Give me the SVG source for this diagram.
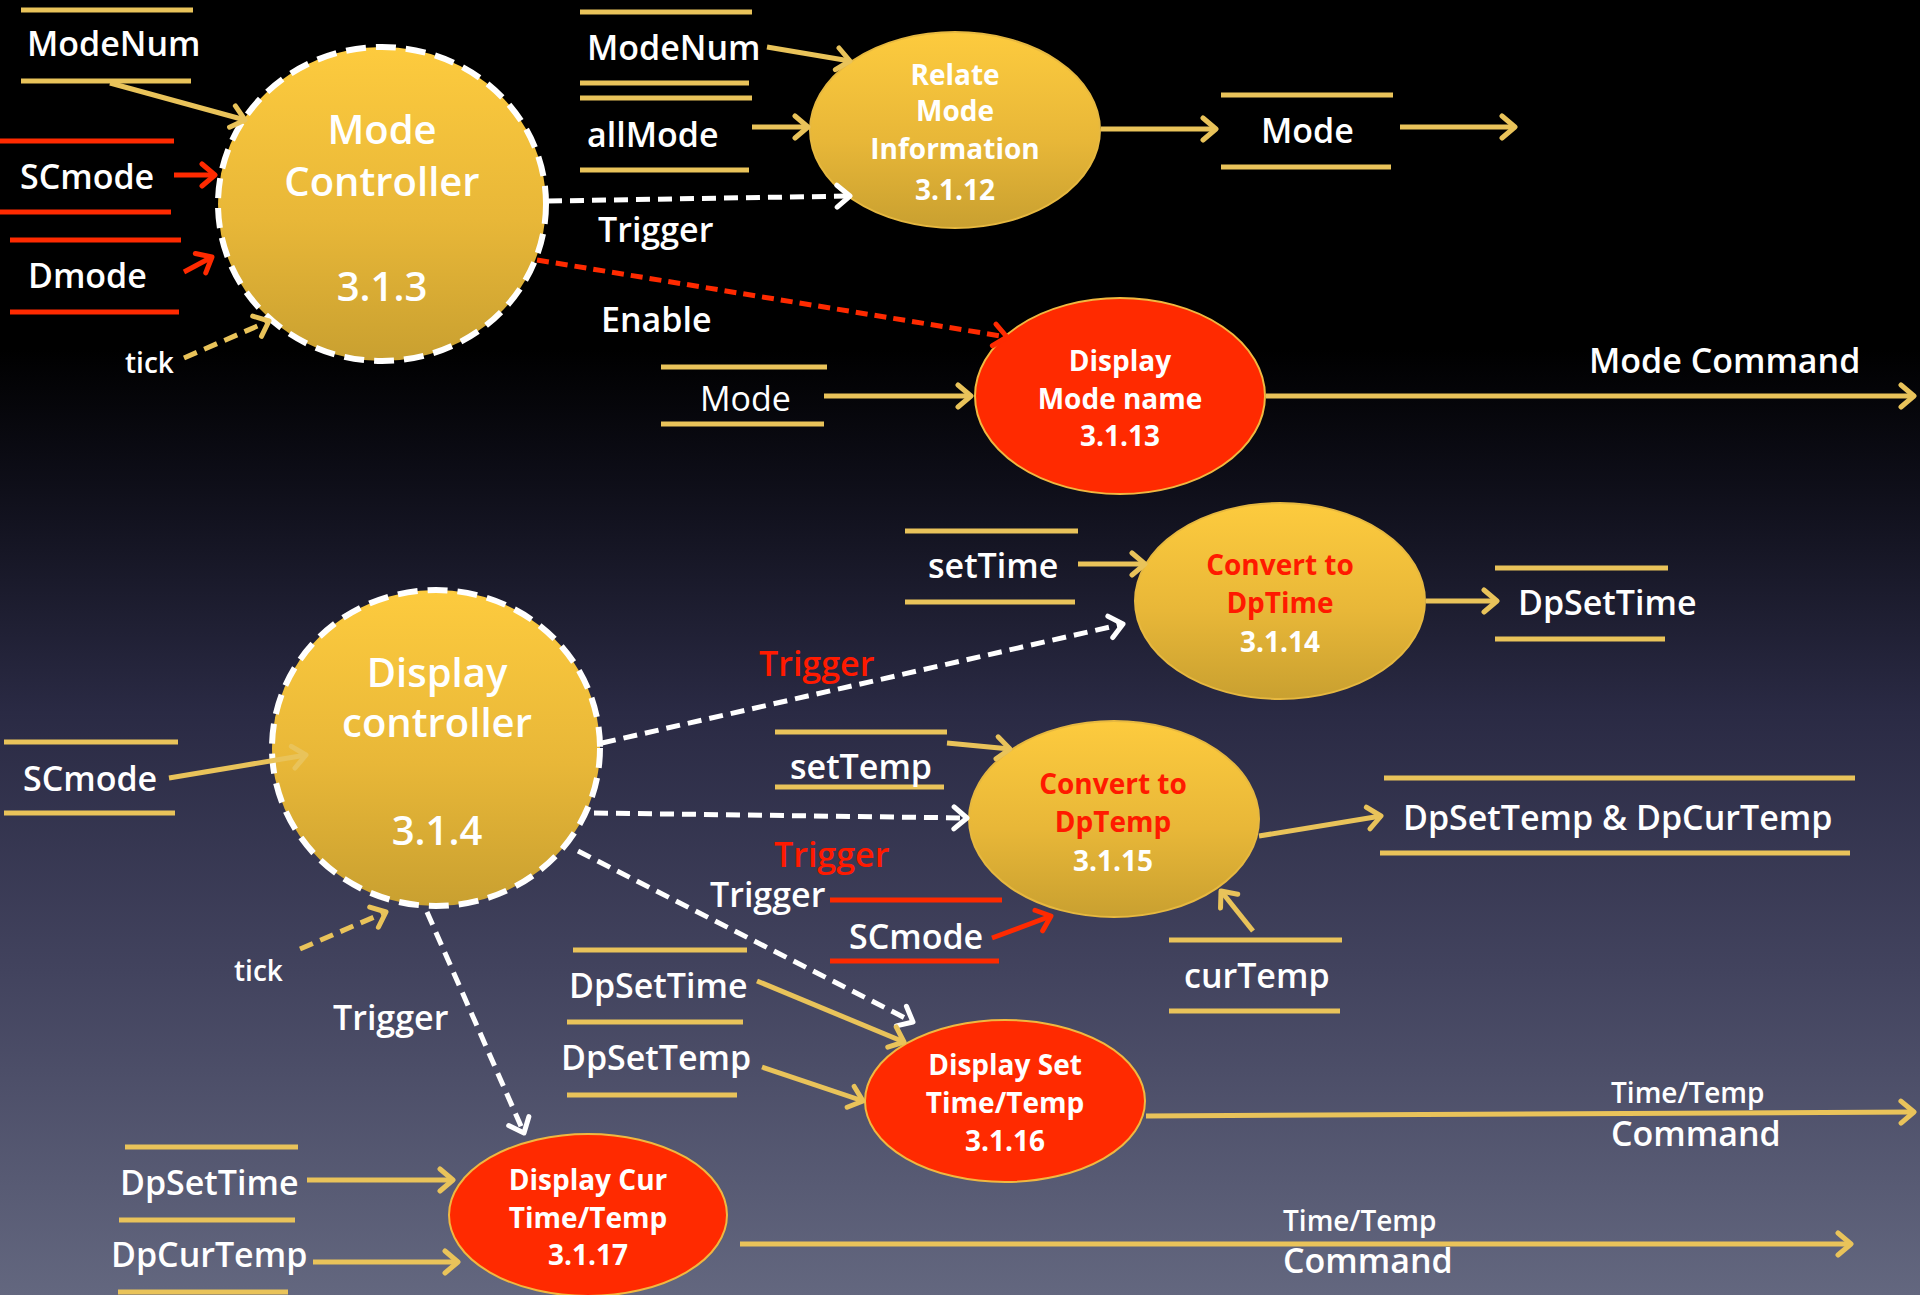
<svg xmlns="http://www.w3.org/2000/svg" width="1920" height="1295" viewBox="0 0 1920 1295">
<defs>
<linearGradient id="bg" x1="0" y1="0" x2="0" y2="1">
<stop offset="0" stop-color="#000000"/>
<stop offset="0.27" stop-color="#000000"/>
<stop offset="0.38" stop-color="#0f0f1a"/>
<stop offset="0.55" stop-color="#2a2a44"/>
<stop offset="0.75" stop-color="#42435e"/>
<stop offset="1" stop-color="#63677f"/>
</linearGradient>
<linearGradient id="gold" x1="0" y1="0" x2="0" y2="1">
<stop offset="0" stop-color="#fdcb3e"/>
<stop offset="0.55" stop-color="#e8b738"/>
<stop offset="1" stop-color="#c9a030"/>
</linearGradient>
<marker id="ay" viewBox="0 0 20 28" refX="17" refY="14" markerWidth="20" markerHeight="28" orient="auto" markerUnits="userSpaceOnUse"><path d="M4,3 L17,14 L4,25" fill="none" stroke="#e9c35a" stroke-width="5" stroke-linecap="round" stroke-linejoin="round"/></marker>
<marker id="ar" viewBox="0 0 20 28" refX="17" refY="14" markerWidth="20" markerHeight="28" orient="auto" markerUnits="userSpaceOnUse"><path d="M4,3 L17,14 L4,25" fill="none" stroke="#ff2a00" stroke-width="5" stroke-linecap="round" stroke-linejoin="round"/></marker>
<marker id="aw" viewBox="0 0 20 28" refX="17" refY="14" markerWidth="20" markerHeight="28" orient="auto" markerUnits="userSpaceOnUse"><path d="M4,3 L17,14 L4,25" fill="none" stroke="#ffffff" stroke-width="5" stroke-linecap="round" stroke-linejoin="round"/></marker>
</defs>
<style>
text{font-family:"Open Sans","Noto Sans","Liberation Sans",sans-serif;fill:#ffffff;font-weight:600}
.lbl{font-size:34px}
.sm{font-size:28px}
.big{font-size:40px;text-anchor:middle}
.nt{font-size:28px;text-anchor:middle;font-weight:700}
.rt{fill:#ff1a00}
.ys{stroke:#e9c35a;stroke-width:5;fill:none}
.rs{stroke:#ff2a00;stroke-width:5;fill:none}
.ya{stroke:#e9c35a;stroke-width:5;fill:none;marker-end:url(#ay)}
.yd{stroke:#e9c35a;stroke-width:5;fill:none;stroke-dasharray:14 8;marker-end:url(#ay)}
.ra{stroke:#ff2a00;stroke-width:5;fill:none;marker-end:url(#ar)}
.rd{stroke:#ff2a00;stroke-width:5;fill:none;stroke-dasharray:12 7;marker-end:url(#ar)}
.wd{stroke:#ffffff;stroke-width:5;fill:none;stroke-dasharray:14 8;marker-end:url(#aw)}
.ctl{fill:url(#gold);stroke:#ffffff;stroke-width:6;stroke-dasharray:20 10}
.gp{fill:url(#gold);stroke:#e6b840;stroke-width:2}
.rp{fill:#ff2a00;stroke:#f0b840;stroke-width:2}
</style>
<rect width="1920" height="1295" fill="url(#bg)"/>

<g id="stores">
<g id="store-modenum-1"><line class="ys" x1="21" y1="10" x2="193" y2="10"/><line class="ys" x1="21" y1="81" x2="191" y2="81"/><text class="lbl" x="27" y="56">ModeNum</text></g>
<g id="store-scmode-1"><line class="rs" x1="0" y1="141" x2="174" y2="141"/><line class="rs" x1="0" y1="212" x2="171" y2="212"/><text class="lbl" x="20" y="189">SCmode</text></g>
<g id="store-dmode"><line class="rs" x1="10" y1="240" x2="181" y2="240"/><line class="rs" x1="10" y1="312" x2="179" y2="312"/><text class="lbl" x="28" y="288">Dmode</text></g>
<g id="store-modenum-2"><line class="ys" x1="580" y1="12" x2="752" y2="12"/><line class="ys" x1="580" y1="83" x2="749" y2="83"/><text class="lbl" x="587" y="60">ModeNum</text></g>
<g id="store-allmode"><line class="ys" x1="580" y1="98" x2="752" y2="98"/><line class="ys" x1="580" y1="170" x2="749" y2="170"/><text class="lbl" x="587" y="147">allMode</text></g>
<g id="store-mode-1"><line class="ys" x1="1221" y1="95" x2="1393" y2="95"/><line class="ys" x1="1221" y1="167" x2="1391" y2="167"/><text class="lbl" x="1261" y="143">Mode</text></g>
<g id="store-mode-2"><line class="ys" x1="661" y1="367" x2="827" y2="367"/><line class="ys" x1="661" y1="424" x2="824" y2="424"/><text class="lbl" x="700" y="411" style="font-weight:400">Mode</text></g>
<g id="store-settime"><line class="ys" x1="905" y1="531" x2="1078" y2="531"/><line class="ys" x1="905" y1="602" x2="1075" y2="602"/><text class="lbl" x="928" y="578">setTime</text></g>
<g id="store-dpsettime-1"><line class="ys" x1="1495" y1="568" x2="1668" y2="568"/><line class="ys" x1="1495" y1="639" x2="1665" y2="639"/><text class="lbl" x="1518" y="615">DpSetTime</text></g>
<g id="store-scmode-2"><line class="ys" x1="4" y1="742" x2="178" y2="742"/><line class="ys" x1="4" y1="813" x2="175" y2="813"/><text class="lbl" x="23" y="791">SCmode</text></g>
<g id="store-settemp"><line class="ys" x1="775" y1="732" x2="947" y2="732"/><line class="ys" x1="775" y1="787" x2="944" y2="787"/><text class="lbl" x="790" y="779">setTemp</text></g>
<g id="store-dpsettemp-dpcurtemp"><line class="ys" x1="1384" y1="778" x2="1855" y2="778"/><line class="ys" x1="1380" y1="853" x2="1850" y2="853"/><text class="lbl" x="1403" y="830">DpSetTemp &amp; DpCurTemp</text></g>
<g id="store-scmode-3"><line class="rs" x1="830" y1="900" x2="1002" y2="900"/><line class="rs" x1="830" y1="961" x2="999" y2="961"/><text class="lbl" x="849" y="949">SCmode</text></g>
<g id="store-curtemp"><line class="ys" x1="1169" y1="940" x2="1342" y2="940"/><line class="ys" x1="1169" y1="1011" x2="1340" y2="1011"/><text class="lbl" x="1184" y="988">curTemp</text></g>
<g id="store-dpsettime-2"><line class="ys" x1="573" y1="950" x2="747" y2="950"/><line class="ys" x1="567" y1="1022" x2="743" y2="1022"/><text class="lbl" x="569" y="998">DpSetTime</text></g>
<g id="store-dpsettemp"><line class="ys" x1="567" y1="1095" x2="737" y2="1095"/><text class="lbl" x="561" y="1070">DpSetTemp</text></g>
<g id="store-dpsettime-3"><line class="ys" x1="125" y1="1147" x2="298" y2="1147"/><line class="ys" x1="119" y1="1220" x2="295" y2="1220"/><text class="lbl" x="120" y="1195">DpSetTime</text></g>
<g id="store-dpcurtemp"><line class="ys" x1="118" y1="1292" x2="288" y2="1292"/><text class="lbl" x="111" y="1267">DpCurTemp</text></g>
</g>

<g id="node-3.1.3">
<ellipse class="ctl" cx="382" cy="204" rx="164" ry="157"/>
<text class="big" x="382" y="144">Mode</text>
<text class="big" x="382" y="196">Controller</text>
<text class="big" x="382" y="301">3.1.3</text>
</g>
<g id="node-3.1.12">
<ellipse class="gp" cx="955" cy="130" rx="145" ry="98"/>
<text class="nt" x="955" y="85">Relate</text>
<text class="nt" x="955" y="121">Mode</text>
<text class="nt" x="955" y="159">Information</text>
<text class="nt" x="955" y="200">3.1.12</text>
</g>
<g id="node-3.1.13">
<ellipse class="rp" cx="1120" cy="396" rx="145" ry="98"/>
<text class="nt" x="1120" y="371">Display</text>
<text class="nt" x="1120" y="409">Mode name</text>
<text class="nt" x="1120" y="446">3.1.13</text>
</g>
<g id="node-3.1.4">
<ellipse class="ctl" cx="436" cy="748" rx="164" ry="158"/>
<text class="big" x="437" y="687">Display</text>
<text class="big" x="437" y="737">controller</text>
<text class="big" x="437" y="845">3.1.4</text>
</g>
<g id="node-3.1.14">
<ellipse class="gp" cx="1280" cy="601" rx="145" ry="98"/>
<text class="nt rt" x="1280" y="575">Convert to</text>
<text class="nt rt" x="1280" y="613">DpTime</text>
<text class="nt" x="1280" y="652">3.1.14</text>
</g>
<g id="node-3.1.15">
<ellipse class="gp" cx="1114" cy="819" rx="145" ry="98"/>
<text class="nt rt" x="1113" y="794">Convert to</text>
<text class="nt rt" x="1113" y="832">DpTemp</text>
<text class="nt" x="1113" y="871">3.1.15</text>
</g>
<g id="node-3.1.16">
<ellipse class="rp" cx="1005" cy="1101" rx="140" ry="81"/>
<text class="nt" x="1005" y="1075">Display Set</text>
<text class="nt" x="1005" y="1113">Time/Temp</text>
<text class="nt" x="1005" y="1151">3.1.16</text>
</g>
<g id="node-3.1.17">
<ellipse class="rp" cx="588" cy="1215" rx="139" ry="81"/>
<text class="nt" x="588" y="1190">Display Cur</text>
<text class="nt" x="588" y="1228">Time/Temp</text>
<text class="nt" x="588" y="1265">3.1.17</text>
</g>

<g id="connectors">
<line class="ya" x1="110" y1="83" x2="245" y2="120"/>
<line class="ra" x1="174" y1="175" x2="215" y2="175"/>
<line class="ra" x1="184" y1="272" x2="212" y2="257"/>
<line class="yd" x1="184" y1="358" x2="269" y2="321"/>
<line class="ya" x1="767" y1="47" x2="850" y2="61"/>
<line class="ya" x1="752" y1="127" x2="808" y2="127"/>
<line class="wd" x1="548" y1="201" x2="850" y2="196"/>
<line class="ya" x1="1101" y1="129" x2="1216" y2="129"/>
<line class="ya" x1="1400" y1="127" x2="1515" y2="127"/>
<line class="rd" x1="537" y1="260" x2="1007" y2="337"/>
<line class="ya" x1="824" y1="396" x2="971" y2="396"/>
<line class="ya" x1="1266" y1="396" x2="1914" y2="396"/>
<line class="ya" x1="169" y1="778" x2="306" y2="755"/>
<line class="yd" x1="300" y1="949" x2="386" y2="912"/>
<line class="wd" x1="427" y1="912" x2="524" y2="1133"/>
<line class="wd" x1="602" y1="743" x2="1123" y2="624"/>
<line class="ya" x1="1078" y1="564" x2="1145" y2="564"/>
<line class="ya" x1="1426" y1="601" x2="1497" y2="601"/>
<line class="ya" x1="947" y1="743" x2="1010" y2="749"/>
<line class="wd" x1="594" y1="813" x2="967" y2="818"/>
<line class="ya" x1="1259" y1="836" x2="1381" y2="816"/>
<line class="ya" x1="1253" y1="931" x2="1221" y2="891"/>
<line class="ra" x1="992" y1="938" x2="1051" y2="916"/>
<line class="wd" x1="578" y1="851" x2="913" y2="1022"/>
<line class="ya" x1="757" y1="981" x2="904" y2="1042"/>
<line class="ya" x1="762" y1="1067" x2="863" y2="1101"/>
<line class="ya" x1="1146" y1="1116" x2="1914" y2="1112"/>
<line class="ya" x1="307" y1="1180" x2="453" y2="1180"/>
<line class="ya" x1="313" y1="1262" x2="458" y2="1262"/>
<line class="ya" x1="740" y1="1244" x2="1851" y2="1244"/>
<text class="sm" x="125" y="373">tick</text>
<text class="lbl" x="598" y="242">Trigger</text>
<text class="lbl" x="601" y="332">Enable</text>
<text class="lbl" x="1589" y="373">Mode Command</text>
<text class="sm" x="234" y="981">tick</text>
<text class="lbl" x="333" y="1030">Trigger</text>
<text class="lbl rt" x="759" y="676">Trigger</text>
<text class="lbl rt" x="774" y="867">Trigger</text>
<text class="lbl" x="710" y="907">Trigger</text>
<text class="sm" x="1611" y="1103">Time/Temp</text>
<text class="lbl" x="1611" y="1146">Command</text>
<text class="sm" x="1283" y="1231">Time/Temp</text>
<text class="lbl" x="1283" y="1273">Command</text>
</g>
</svg>
